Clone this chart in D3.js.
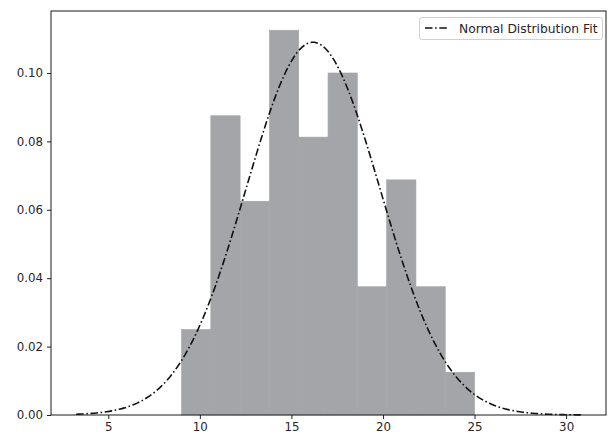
<!DOCTYPE html>
<html>
<head>
<meta charset="utf-8">
<script src="https://cdn.jsdelivr.net/npm/d3@7"></script>
<style>
  html, body { margin: 0; padding: 0; background: #fff; }
  svg { display: block; font-family: "DejaVu Sans", sans-serif; }
</style>
</head>
<body>
<svg id="chart" width="608" height="435"></svg>
<script>
// Histogram bin edges (start, end) and density heights
const binStarts = [9.0, 10.6, 12.2, 13.8, 15.4, 17.0, 18.6, 20.2, 21.8, 23.4];
const binWidth = 1.6;
const densities = [0.025, 0.0875, 0.0625, 0.1125, 0.08125, 0.1, 0.0375, 0.06875, 0.0375, 0.0125];
const fitMean = 16.18;
const fitSd = 3.66;
const fitRange = [3.25, 30.8];
const xTicks = [5, 10, 15, 20, 25, 30];
const yTicks = [0, 0.02, 0.04, 0.06, 0.08, 0.10];
const legendLabel = "Normal Distribution Fit";

const svg = d3.select("#chart");
const L = 51, R = 606, T = 11, B = 415;
const pad = (fitRange[1] - fitRange[0]) * 0.05;
const x = d3.scaleLinear().domain([fitRange[0] - pad, fitRange[1] + pad]).range([L, R]);
const yMax = d3.max(densities) * 1.05;
const y = d3.scaleLinear().domain([0, yMax]).range([B, T]);

// Bars
svg.append("g").selectAll("rect").data(binStarts).join("rect")
  .attr("x", d => x(d))
  .attr("width", d => x(d + binWidth) - x(d))
  .attr("y", (d, i) => y(densities[i]))
  .attr("height", (d, i) => y(0) - y(densities[i]))
  .attr("fill", "#a4a5a9")
  .attr("stroke", "#a4a5a9")
  .attr("stroke-width", 0.6);

// Normal curve
const nPts = 200;
const pts = d3.range(nPts).map(i => {
  const xv = fitRange[0] + (fitRange[1] - fitRange[0]) * i / (nPts - 1);
  const z = (xv - fitMean) / fitSd;
  return [xv, Math.exp(-0.5 * z * z) / (fitSd * Math.sqrt(2 * Math.PI))];
});
svg.append("path")
  .attr("d", d3.line().x(d => x(d[0])).y(d => y(d[1]))(pts))
  .attr("fill", "none")
  .attr("stroke", "#111")
  .attr("stroke-width", 1.6)
  .attr("stroke-dasharray", "7.5,2.6,1.6,2.6");

// Axes
const xAxis = d3.axisBottom(x).tickValues(xTicks).tickSize(4).tickPadding(4).tickFormat(d3.format("d"));
const yAxis = d3.axisLeft(y).tickValues(yTicks).tickSize(4).tickPadding(4).tickFormat(d3.format(".2f"));
const gx = svg.append("g").attr("transform", `translate(0,${B})`).call(xAxis);
const gy = svg.append("g").attr("transform", `translate(${L},0)`).call(yAxis);
[gx, gy].forEach(g => {
  g.select(".domain").remove();
  g.selectAll("line").attr("stroke", "#222");
  g.selectAll("text").attr("fill", "#262626").style("font-size", "11.8px").style("font-family", "DejaVu Sans");
});

// Spines
svg.append("rect")
  .attr("x", L).attr("y", T).attr("width", R - L).attr("height", B - T)
  .attr("fill", "none").attr("stroke", "#1a1a1a").attr("stroke-width", 1);

// Legend
const lg = svg.append("g");
lg.append("rect")
  .attr("x", 419.5).attr("y", 17.5).attr("width", 183).attr("height", 22)
  .attr("rx", 2.5).attr("fill", "#fff").attr("fill-opacity", 0.8)
  .attr("stroke", "#d0d0d0").attr("stroke-width", 1);
lg.append("line")
  .attr("x1", 425).attr("x2", 448).attr("y1", 28).attr("y2", 28)
  .attr("stroke", "#111").attr("stroke-width", 1.6)
  .attr("stroke-dasharray", "7.5,2.6,1.6,2.6");
lg.append("text")
  .attr("x", 459).attr("y", 32.5)
  .attr("fill", "#262626").style("font-size", "12.3px")
  .text(legendLabel);
</script>
</body>
</html>
